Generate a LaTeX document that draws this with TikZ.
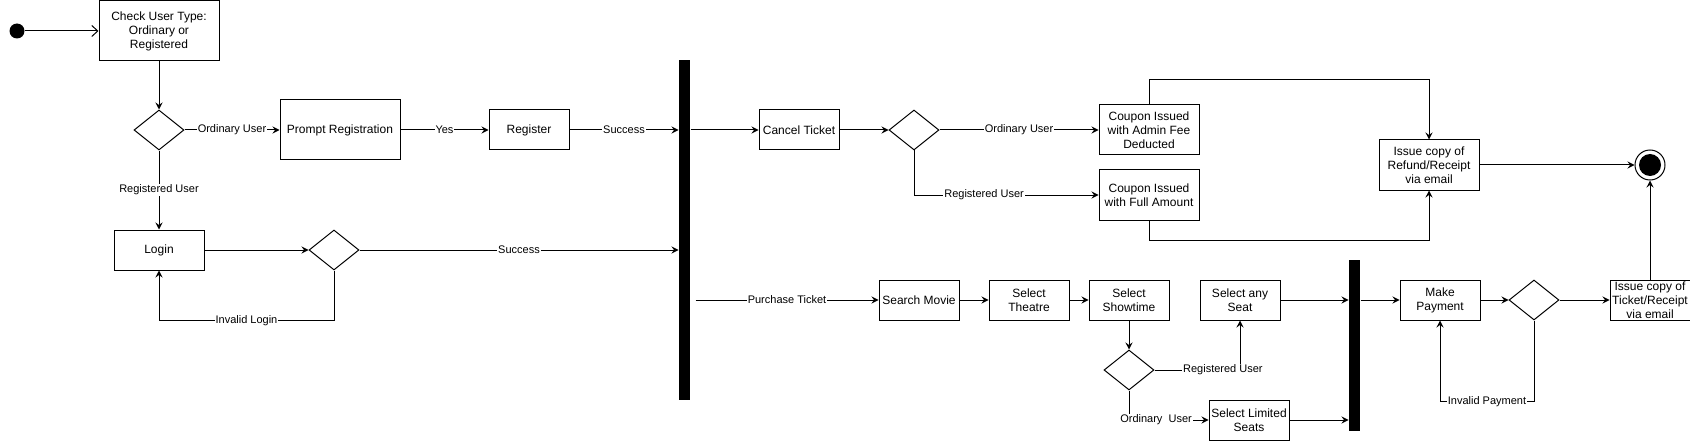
\documentclass[tikz,border=0pt]{standalone}
\usepackage{fontspec}
\setmainfont{Liberation Sans}
\usetikzlibrary{arrows.meta}
\usetikzlibrary{shapes.geometric}
\tikzset{>={Stealth[length=7pt,width=7pt,inset=2.5pt]}}
\tikzset{
  act/.style={draw, rectangle, align=center, inner sep=1pt, minimum width=80pt,
    minimum height=40pt, font=\fontsize{12}{14}\selectfont},
  choice/.style={draw, diamond, inner sep=0pt, minimum width=50pt, minimum height=40pt},
  syncbar/.style={fill=black, inner sep=0pt, minimum width=11pt},
  lbl/.style={fill=white, inner sep=1pt, font=\fontsize{11}{13}\selectfont},
}

\begin{document}
\begin{tikzpicture}[x=1pt, y=-1pt, line width=1pt]
  \useasboundingbox (0,0) rectangle (1690,441);
  % start and end
  \node[circle, fill=black, minimum size=15pt, inner sep=0pt] (start) at (17,31) {};
  \node[circle, draw, minimum size=30pt, inner sep=0pt] (fin) at (1650,165) {};
  \fill (fin.center) circle (11pt);
  % login part
  \node[act, minimum width=120pt, minimum height=60pt] (check) at (159,31) {Check User Type:\\Ordinary or\\Registered};
  \node[choice] (usr) at (159,130) {};
  \node[act, minimum width=120pt, minimum height=60pt] (prompt) at (340,130) {Prompt Registration};
  \node[act] (reg) at (529,130) {Register};
  \node[act, minimum width=90pt] (login) at (159,250) {Login};
  \node[choice] (auth) at (334,250) {};
  % bars
  \node[syncbar, minimum height=340pt] (bar1) at (684.5,230) {};
  \node[syncbar, minimum height=171pt] (bar2) at (1354.5,345.5) {};
  % cancel part
  \node[act] (cancel) at (799,130) {Cancel Ticket};
  \node[choice] (refkind) at (914,130) {};
  \node[act, minimum width=100pt, minimum height=50pt] (cpadmin) at (1149,130) {Coupon Issued\\with Admin Fee\\Deducted};
  \node[act, minimum width=100pt, minimum height=50pt] (cpfull) at (1149,195) {Coupon Issued\\with Full Amount};
  \node[act, minimum width=100pt, minimum height=50pt] (refund) at (1429,165) {Issue copy of\\Refund/Receipt\\via email};
  % purchase part
  \node[act] (search) at (919,300) {Search Movie};
  \node[act] (theatre) at (1029,300) {Select\\Theatre};
  \node[act] (show) at (1129,300) {Select\\Showtime};
  \node[act] (anyseat) at (1240,300) {Select any\\Seat};
  \node[choice] (seatkind) at (1129,370) {};
  \node[act] (limited) at (1249,420) {Select Limited\\Seats};
  \node[act] (pay) at (1440,300) {Make\\Payment};
  \node[choice] (paid) at (1534,300) {};
  \node[act] (ticket) at (1650,300) {Issue copy of\\Ticket/Receipt\\via email};
  \coordinate (buy) at ([xshift=5pt]bar1.east |- search.west);
  % lines
  \draw[-{Straight Barb[length=6pt,width=11pt]}] (start) -- (check);
  \draw[->] (check) -- (usr);
  \draw[->] (usr) -- node[lbl] {Ordinary User} (prompt);
  \draw[->] (usr) -- node[lbl] {Registered User} (login);
  \draw[->] (prompt) -- node[lbl] {Yes} (reg);
  \draw[->] (reg) -- node[lbl] {Success} (bar1.west |- reg.east);
  \draw[->] (login) -- (auth);
  \draw[->] (auth) -- node[lbl] {Success} (bar1.west |- auth.east);
  \draw[->] (auth.south) -- ++(0,50) -| node[lbl, pos=.25] {Invalid Login} (login.south);
  \draw[->] (bar1.east |- cancel.west) -- (cancel);
  \draw[->] (cancel) -- (refkind);
  \draw[->] (refkind) -- node[lbl] {Ordinary User} (cpadmin);
  \draw[->] (refkind.south) |- node[lbl, pos=.69] {Registered User} (cpfull.west);
  \draw[->] (cpadmin.north) -- ++(0,-25) -| (refund.north);
  \draw[->] (cpfull.south) -- ++(0,20) -| (refund.south);
  \draw[->] (refund) -- (fin);
  \draw[->] (buy) -- node[lbl] {Purchase Ticket} (search);
  \draw[->] (search) -- (theatre);
  \draw[->] (theatre) -- (show);
  \draw[->] (show) -- (seatkind);
  \draw[->] (seatkind.east) -| node[lbl, pos=.4] {Registered User} (anyseat.south);
  \draw[->] (seatkind.south) |- node[lbl, pos=.67] {Ordinary\ \ User} (limited.west);
  \draw[->] (anyseat) -- (bar2.west |- anyseat.east);
  \draw[->] (limited) -- (bar2.west |- limited.east);
  \draw[->] (bar2.east |- pay.west) -- (pay);
  \draw[->] (pay) -- (paid);
  \draw[->] (paid.south) -- ++(0,81) -| node[lbl, pos=.25] {Invalid Payment} (pay.south);
  \draw[->] (paid) -- (ticket);
  \draw[->] (ticket) -- (fin);
\end{tikzpicture}
\end{document}
